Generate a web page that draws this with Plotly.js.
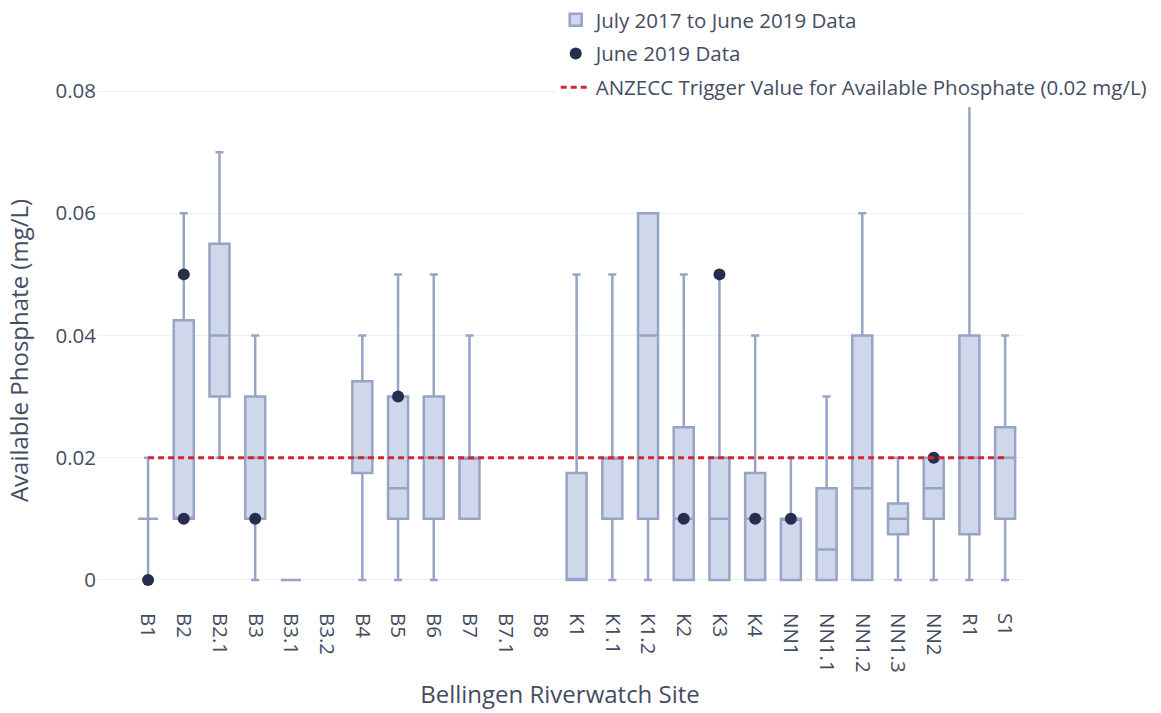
<!DOCTYPE html>
<html>
<head>
<meta charset="utf-8">
<script src="https://cdn.plot.ly/plotly-3.0.1.min.js"></script>
<style>html,body{margin:0;padding:0;background:#fff;}</style>
</head>
<body>
<div id="chart" style="width:1161px;height:713px;"></div>
<script>
// Categories (sites)
var sites = ['B1','B2','B2.1','B3','B3.1','B3.2','B4','B5','B6','B7','B7.1','B8','K1','K1.1','K1.2','K2','K3','K4','NN1','NN1.1','NN1.2','NN1.3','NN2','R1','S1'];
// July 2017 to June 2019 box statistics (null = no data)
var lowerFence = [0, 0.01, 0.02, 0, 0, null, 0, 0, 0, 0.01, null, null, 0, 0, 0, 0, 0, 0, 0, 0, 0, 0, 0, 0, 0];
var q1Values   = [0.01, 0.01, 0.03, 0.01, 0, null, 0.0175, 0.01, 0.01, 0.01, null, null, 0, 0.01, 0.01, 0, 0, 0, 0, 0, 0, 0.0075, 0.01, 0.0075, 0.01];
var medians    = [0.01, 0.01, 0.04, 0.02, 0, null, 0.02, 0.015, 0.02, 0.02, null, null, 0, 0.02, 0.04, 0.01, 0.01, 0.01, 0.01, 0.005, 0.015, 0.01, 0.015, 0.02, 0.02];
var q3Values   = [0.01, 0.0425, 0.055, 0.03, 0, null, 0.0325, 0.03, 0.03, 0.02, null, null, 0.0175, 0.02, 0.06, 0.025, 0.02, 0.0175, 0.01, 0.015, 0.04, 0.0125, 0.02, 0.04, 0.025];
var upperFence = [0.02, 0.06, 0.07, 0.04, 0, null, 0.04, 0.05, 0.05, 0.04, null, null, 0.05, 0.05, 0.06, 0.05, 0.05, 0.04, 0.02, 0.03, 0.06, 0.02, 0.02, 0.08, 0.04];
// June 2019 samples
var juneSites  = ['B1','B2','B2','B3','B5','K2','K3','K4','NN1','NN2'];
var juneValues = [0, 0.05, 0.01, 0.01, 0.03, 0.01, 0.05, 0.01, 0.01, 0.02];
// ANZECC trigger value
var triggerValue = 0.02;

var bx = [], bl = [], bq1 = [], bm = [], bq3 = [], bu = [];
for (var i = 0; i < sites.length; i++) {
  if (q1Values[i] === null) continue;
  bx.push(sites[i]); bl.push(lowerFence[i]); bq1.push(q1Values[i]);
  bm.push(medians[i]); bq3.push(q3Values[i]); bu.push(upperFence[i]);
}

var textColor = '#454c62';

var boxTrace = {
  type: 'box',
  name: 'July 2017 to June 2019 Data',
  x: bx, lowerfence: bl, q1: bq1, median: bm, q3: bq3, upperfence: bu,
  boxpoints: false,
  width: 0.56,
  whiskerwidth: 0.4,
  line: {color: 'rgb(152,164,198)', width: 2.5},
  fillcolor: 'rgb(207,215,235)',
  legendgroup: 'a',
  hoverinfo: 'skip'
};

var juneTrace = {
  type: 'scatter',
  mode: 'markers',
  name: 'June 2019 Data',
  x: juneSites, y: juneValues,
  marker: {color: '#272d4c', size: 12},
  legendgroup: 'b'
};

var lineTrace = {
  type: 'scatter',
  mode: 'lines',
  name: 'ANZECC Trigger Value for Available Phosphate (0.02 mg/L)',
  x: [sites[0], sites[sites.length - 1]],
  y: [triggerValue, triggerValue],
  line: {color: 'rgb(214,36,52)', width: 3, dash: '6px,4px'},
  legendgroup: 'c'
};

var layout = {
  width: 1161, height: 713,
  margin: {l: 97, r: 138, t: 89, b: 101, autoexpand: false},
  paper_bgcolor: '#fff', plot_bgcolor: '#fff',
  font: {family: '"Open Sans", sans-serif', size: 20.5, color: textColor},
  showlegend: true,
  legend: {
    xref: 'container', yref: 'container',
    x: 0.992, xanchor: 'right', y: 1.0, yanchor: 'top',
    bgcolor: '#fff', font: {size: 20.5, color: textColor},
    tracegroupgap: 4
  },
  xaxis: {
    type: 'category',
    categoryorder: 'array', categoryarray: sites,
    range: [-1.43, 24.5],
    tickangle: 90,
    showgrid: false, zeroline: false, showline: false,
    tickfont: {size: 20.5, color: textColor},
    title: {text: 'Bellingen Riverwatch Site', font: {size: 24, color: textColor}, standoff: 14}
  },
  yaxis: {
    range: [-0.00524, 0.08033],
    tickvals: [0, 0.02, 0.04, 0.06, 0.08],
    ticktext: ['0', '0.02', '0.04', '0.06', '0.08'],
    gridcolor: '#EBF0F8', gridwidth: 1,
    zeroline: false, showline: false,
    tickfont: {size: 20.5, color: textColor},
    title: {text: 'Available Phosphate (mg/L)', font: {size: 24, color: textColor}, standoff: 20}
  }
};

Plotly.newPlot('chart', [boxTrace, juneTrace, lineTrace], layout, {displayModeBar: false, staticPlot: true});
</script>
</body>
</html>
